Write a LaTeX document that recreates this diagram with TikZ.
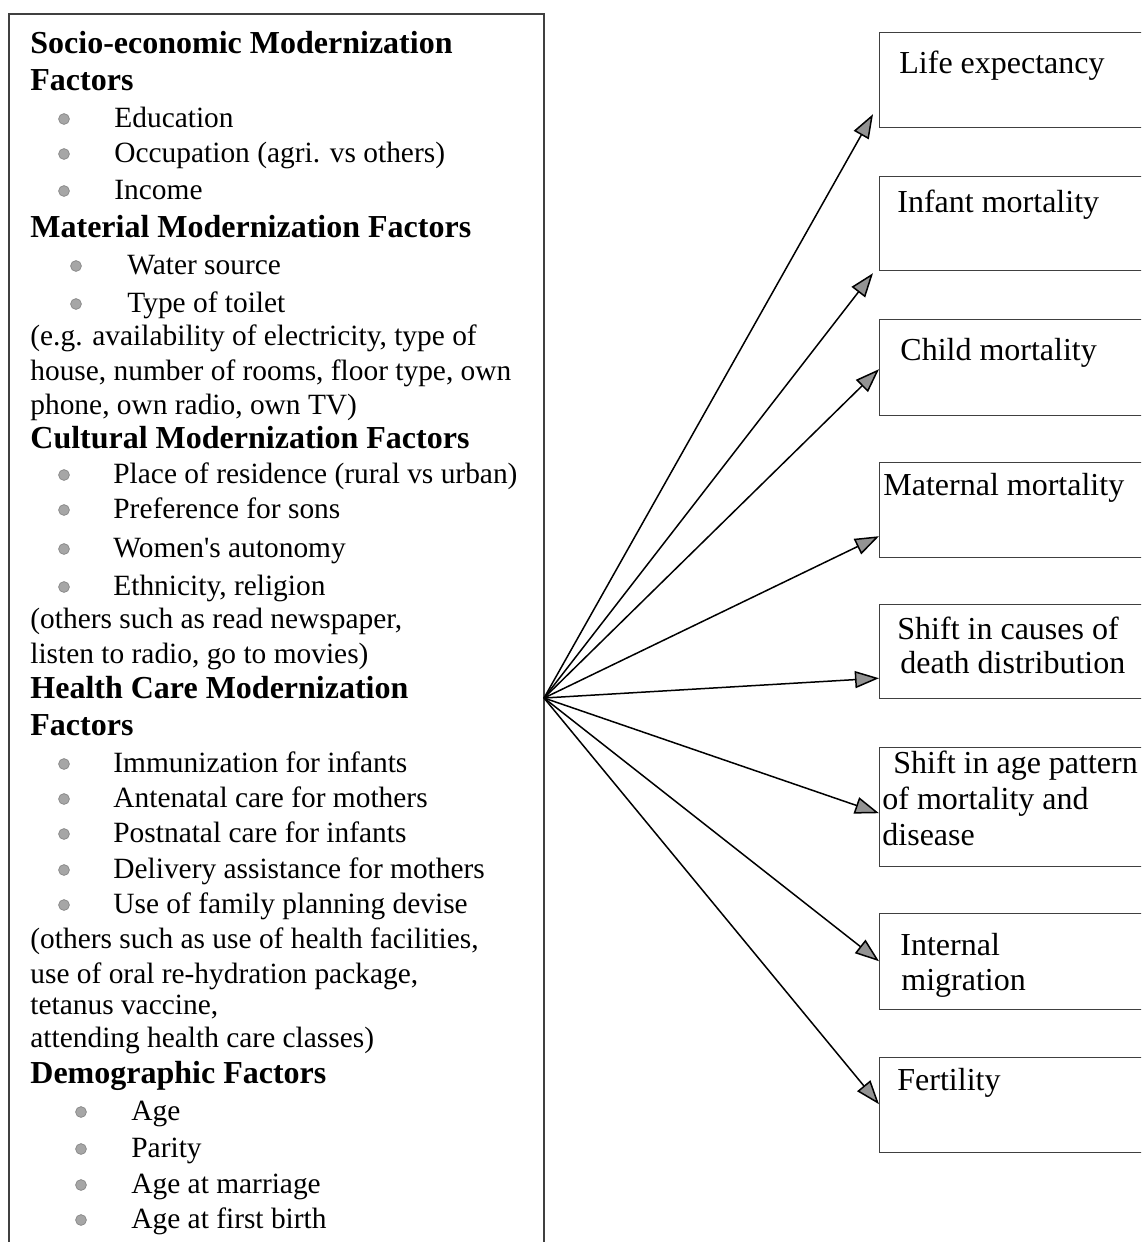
\documentclass[tikz,border=0pt]{standalone}
\usepackage{fontspec}
\setmainfont{Liberation Serif}
\usetikzlibrary{arrows.meta}
\tikzset{
  bodytxt/.style={anchor=base west, inner sep=0pt, font=\fontsize{14.7pt}{17pt}\selectfont},
  headtxt/.style={anchor=base west, inner sep=0pt, font=\fontsize{16pt}{19pt}\selectfont\bfseries},
  boxtxt/.style={anchor=base west, inner sep=0pt, font=\fontsize{16pt}{19pt}\selectfont},
  bul/.style={circle, inner sep=0pt, minimum size=5.4pt, fill=gray!70, draw=gray!95, line width=0.35pt},
  outbox/.style={rectangle, anchor=north west, draw=black!75, line width=0.6pt, minimum width=145.5pt, inner sep=0pt},
  factbox/.style={draw=black!75, line width=0.6pt},
  arr/.style={-{Triangle[length=12pt,width=8.5pt,fill=gray!85]}, line width=0.75pt, draw=black}
}
\newcommand\fhead[3]{\node[headtxt] (#1) at (30,#2) {#3};}
\newcommand\ftext[3]{\node[bodytxt] (#1) at (30,#2) {#3};}
\newcommand\fitem[5]{\node[bul] (#1b) at (#2,#4-8) {}; \node[bodytxt] (#1) at (#3,#4) {#5};}
\begin{document}
\begin{tikzpicture}[x=0.5pt,y=-0.5pt]
\path[use as bounding box, clip] (0,0) rectangle (1141,1242);
\fill[white] (0,0) rectangle (1141,1242);
% left factor box
\draw[factbox] (9,14) rectangle (544,1270);
\fhead{h1}{53}{Socio-economic Modernization}
\fhead{h1b}{90}{Factors}
\fitem{a1}{64}{114}{127}{Education}
\fitem{a2}{64}{114}{162}{Occupation (agri. vs others)}
\fitem{a3}{64}{114}{199}{Income}
\fhead{h2}{237}{Material Modernization Factors}
\fitem{b1}{76}{127}{274}{Water source}
\fitem{b2}{76}{127}{312}{Type of toilet}
\ftext{t1}{345}{(e.g. availability of electricity, type of}
\ftext{t2}{380}{house, number of rooms, floor type, own}
\ftext{t3}{414}{phone, own radio, own TV)}
\fhead{h3}{448}{Cultural Modernization Factors}
\fitem{c1}{64}{113}{483}{Place of residence (rural vs urban)}
\fitem{c2}{64}{113}{518}{Preference for sons}
\fitem{c3}{64}{113}{557}{Women\textquotesingle s autonomy}
\fitem{c4}{64}{113}{595}{Ethnicity, religion}
\ftext{t4}{628}{(others such as read newspaper,}
\ftext{t5}{663}{listen to radio, go to movies)}
\fhead{h4}{698}{Health Care Modernization}
\fhead{h4b}{735}{Factors}
\fitem{d1}{64}{113}{772}{Immunization for infants}
\fitem{d2}{64}{113}{807}{Antenatal care for mothers}
\fitem{d3}{64}{113}{842}{Postnatal care for infants}
\fitem{d4}{64}{113}{878}{Delivery assistance for mothers}
\fitem{d5}{64}{113}{913}{Use of family planning devise}
\ftext{t6}{948}{(others such as use of health facilities,}
\ftext{t7}{983}{use of oral re-hydration package,}
\ftext{t8}{1014}{tetanus vaccine,}
\ftext{t9}{1047}{attending health care classes)}
\fhead{h5}{1083}{Demographic Factors}
\fitem{e1}{81}{131}{1120}{Age}
\fitem{e2}{81}{131}{1157}{Parity}
\fitem{e3}{81}{131}{1193}{Age at marriage}
\fitem{e4}{81}{131}{1228}{Age at first birth}
\coordinate (src) at (544,698);
% outcome boxes
\node[outbox, minimum height=47.5pt] (le) at (879,32) {};
\node[boxtxt] (le-t) at (899,73) {Life expectancy};
\node[outbox, minimum height=47pt] (im) at (879,176) {};
\node[boxtxt] (im-t) at (897,212) {Infant mortality};
\node[outbox, minimum height=48pt] (cm) at (879,319) {};
\node[boxtxt] (cm-t) at (900,360) {Child mortality};
\node[outbox, minimum height=47.5pt] (mm) at (879,462) {};
\node[boxtxt] (mm-t) at (883,495) {Maternal mortality};
\node[outbox, minimum height=47pt] (sc) at (879,604) {};
\node[boxtxt] (sc-t1) at (897,639) {Shift in causes of};
\node[boxtxt] (sc-t2) at (900,673) {death distribution};
\node[outbox, minimum height=59.5pt] (sa) at (879,747) {};
\node[boxtxt] (sa-t1) at (893,773) {Shift in age pattern};
\node[boxtxt] (sa-t2) at (882,809) {of mortality and};
\node[boxtxt] (sa-t3) at (882,845) {disease};
\node[outbox, minimum height=48pt] (mig) at (879,913) {};
\node[boxtxt] (mig-t1) at (900,955) {Internal};
\node[boxtxt] (mig-t2) at (901,990) {migration};
\node[outbox, minimum height=47.5pt] (fer) at (879,1057) {};
\node[boxtxt] (fer-t) at (897,1090) {Fertility};
% connectors
\draw[arr] (src) -- ([xshift=-3pt,yshift=7pt]le.south west);
\draw[arr] (src) -- ([xshift=-3pt,yshift=-1pt]im.south west);
\draw[arr] (src) -- ([yshift=23.5pt]cm.south west);
\draw[arr] (src) -- ([yshift=11pt]mm.south west);
\draw[arr] (src) -- ([yshift=10.5pt]sc.south west);
\draw[arr] (src) -- ([yshift=27pt]sa.south west);
\draw[arr] (src) -- ([yshift=24.5pt]mig.south west);
\draw[arr] (src) -- ([yshift=24.5pt]fer.south west);
\end{tikzpicture}
\end{document}
